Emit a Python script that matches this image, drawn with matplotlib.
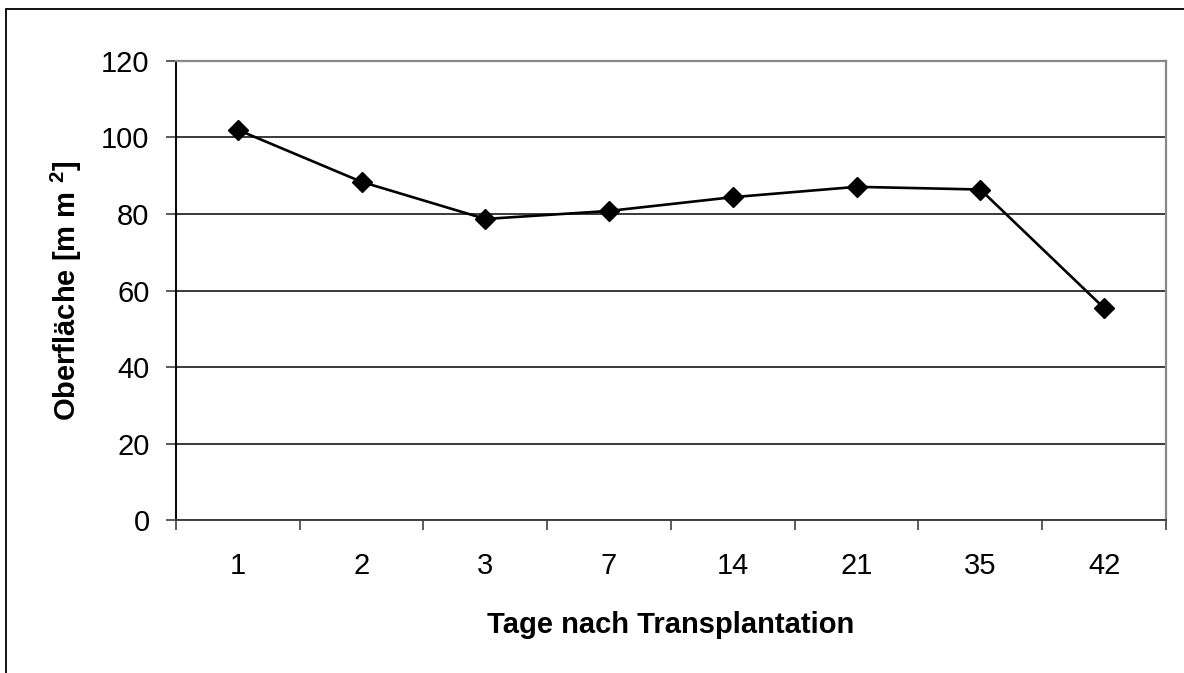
import matplotlib.pyplot as plt
import numpy as np
from matplotlib.patches import Rectangle

# Tage nach Transplantation und gemessene Oberfläche
days = ['1', '2', '3', '7', '14', '21', '35', '42']
surface = [102.0, 88.4, 78.7, 80.8, 84.4, 87.1, 86.4, 55.4]

plt.rcParams['font.family'] = ['Liberation Sans', 'DejaVu Sans']
plt.rcParams['mathtext.fontset'] = 'custom'
plt.rcParams['mathtext.rm'] = 'Liberation Sans'
plt.rcParams['mathtext.bf'] = 'Liberation Sans:bold'

fig = plt.figure(figsize=(11.84, 6.73), dpi=100)
ax = fig.add_axes([0.1486, 0.2273, 0.8362, 0.6821])

# outer chart frame (only top and left edges fall inside the image)
fig.patches.append(Rectangle((6 / 1184, -0.1), 1.2, 1 - 9 / 673 + 0.1,
                             transform=fig.transFigure, fill=False,
                             edgecolor='black', linewidth=1.3))

x = np.arange(len(days))
ax.plot(x, surface, color='black', linewidth=1.9, marker='D',
        markersize=10, markerfacecolor='black', markeredgecolor='black')

ax.set_xlim(-0.5, len(days) - 0.5)
ax.set_ylim(0, 120)
ax.set_yticks(np.arange(0, 121, 20))
ax.yaxis.grid(True, color='#2a2a2a', linewidth=1.3)
ax.set_axisbelow(True)

# category labels centred, tick marks between categories
ax.set_xticks(x)
ax.set_xticklabels(days)
ax.set_xticks(np.arange(-0.5, len(days)), minor=True)
ax.tick_params(axis='x', which='major', length=0, pad=23, labelsize=21)
ax.tick_params(axis='x', which='minor', length=7, width=1.2, color='#404040', direction='out')
ax.tick_params(axis='y', length=7, width=1.2, color='#404040', direction='out',
               pad=12, labelsize=21)

ax.spines['left'].set_color('black')
ax.spines['left'].set_linewidth(1.4)
ax.spines['bottom'].set_color('#404040')
ax.spines['bottom'].set_linewidth(1.4)
for side in ('top', 'right'):
    ax.spines[side].set_color('#888888')
    ax.spines[side].set_linewidth(1.6)

ax.set_xlabel('Tage nach Transplantation', fontsize=21, fontweight='bold', labelpad=22)
ax.set_ylabel(r'Oberfläche [m m $\mathbf{^2}$]', fontsize=21, fontweight='bold', labelpad=12)

fig.savefig('out.png', dpi=100, facecolor='white')
